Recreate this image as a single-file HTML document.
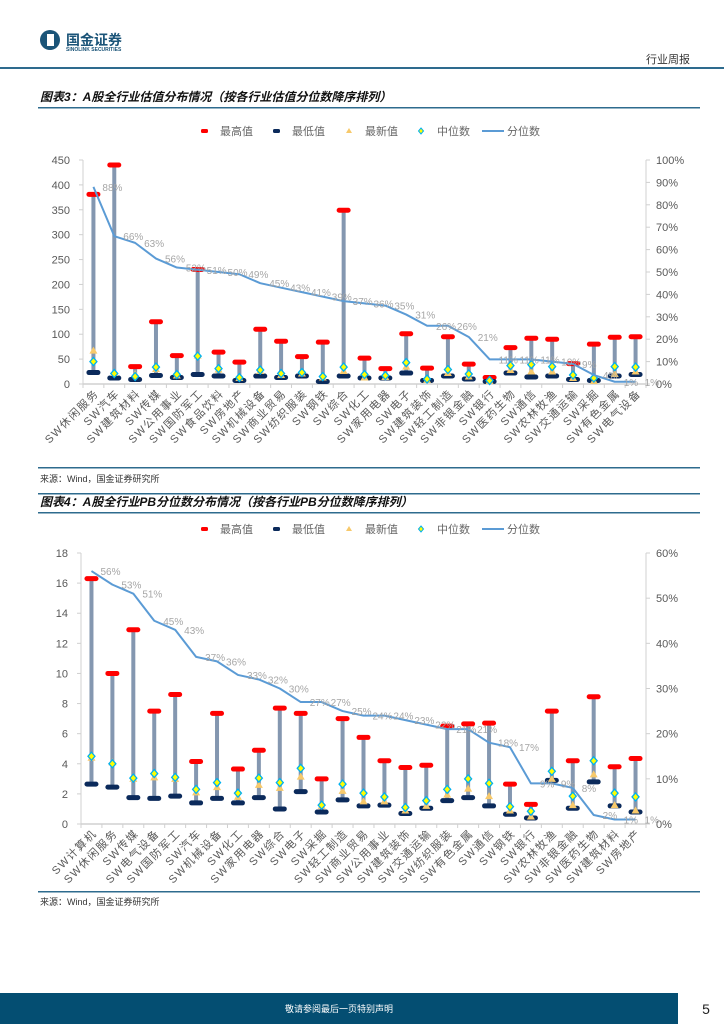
<!DOCTYPE html>
<html><head><meta charset="utf-8">
<style>
html,body{margin:0;padding:0;background:#fff;}
body{width:724px;height:1024px;position:relative;overflow:hidden;font-family:"Liberation Sans","Noto Sans CJK SC",sans-serif;}
svg text{font-family:"Liberation Sans","Noto Sans CJK SC",sans-serif;}
</style></head>
<body>
<svg id="page" width="724" height="1024" viewBox="0 0 724 1024" xmlns="http://www.w3.org/2000/svg">
  <g>
    <circle cx="50" cy="40" r="10" fill="#1b5478"/>
    <rect x="47" y="34" width="7" height="12" fill="#fff"/>
    <text x="66" y="45" font-size="14" font-weight="bold" fill="#1b5478">国金证券</text>
    <text x="66" y="51" font-size="5" font-weight="bold" fill="#1b5478">SINOLINK SECURITIES</text>
  </g>
  <text x="690" y="63" font-size="11" text-anchor="end" fill="#333">行业周报</text>
  <rect x="0" y="67" width="724" height="2" fill="#2e6b8e"/>

  <text x="40" y="101" font-size="12" font-style="italic" font-weight="bold" fill="#111">图表3：A股全行业估值分布情况（按各行业估值分位数降序排列）</text>
  <rect x="38" y="107" width="662" height="1.5" fill="#2e6b8e"/>
  <g id="legend1"></g>
  <g id="chart1"></g>
  <rect x="38" y="467" width="662" height="1.5" fill="#2e6b8e"/>
  <text x="40" y="482" font-size="9" fill="#333">来源：Wind，国金证券研究所</text>

  <rect x="38" y="493" width="662" height="1.5" fill="#2e6b8e"/>
  <text x="40" y="506" font-size="12" font-style="italic" font-weight="bold" fill="#111">图表4：A股全行业PB分位数分布情况（按各行业PB分位数降序排列）</text>
  <rect x="38" y="512" width="662" height="1.5" fill="#2e6b8e"/>
  <g id="legend2"></g>
  <g id="chart2"></g>
  <rect x="38" y="891" width="662" height="1.5" fill="#2e6b8e"/>
  <text x="40" y="905" font-size="9" fill="#333">来源：Wind，国金证券研究所</text>

  <rect x="0" y="993" width="678" height="31" fill="#044e72"/>
  <text x="339" y="1012" font-size="9" fill="#fff" text-anchor="middle">敬请参阅最后一页特别声明</text>
  <text x="706" y="1014" font-size="14" fill="#222" text-anchor="middle">5</text>
</svg>
<script>
const NS='http://www.w3.org/2000/svg';
// Chart 3 data
const cats1=['休闲服务','汽车','建筑材料','传媒','公用事业','国防军工','食品饮料','房地产','机械设备','商业贸易','纺织服装','钢铁','综合','化工','家用电器','电子','建筑装饰','轻工制造','非银金融','银行','医药生物','通信','农林牧渔','交通运输','采掘','有色金属','电气设备'];
const max1=[381,440,35,125,57,230,64,44,110,86,55,84,349,52,31,101,32,95,40,13,73,92,90,41,80,94,95];
const min1=[23,12,9,17,13,19,16,7,16,13,16,5,16,12,12,22,7,16,10,5,22,14,16,9,7,16,19];
const latest1=[67,22,20,30,17,57,29,12,26,18,21,13,26,13,14,35,8,22,15,6,28,25,25,12,6,20,25];
const median1=[45,21,15,34,19,56,31,13,28,21,23,15,34,19,17,43,10,29,20,7,37,39,35,18,12,35,34];
const pct1=[88,66,63,56,52,51,50,49,45,43,41,39,37,36,35,31,26,26,21,11,11,11,10,9,4,1,1];
const leftTicks1=[0,50,100,150,200,250,300,350,400,450];
const rightTicks1=[0,10,20,30,40,50,60,70,80,90,100];
// Chart 4 data
const cats2=['计算机','休闲服务','传媒','电气设备','国防军工','汽车','机械设备','化工','家用电器','综合','电子','采掘','轻工制造','商业贸易','公用事业','建筑装饰','交通运输','纺织服装','有色金属','通信','钢铁','银行','农林牧渔','非银金融','医药生物','建筑材料','房地产'];
const max2=[16.3,10.0,12.9,7.5,8.6,4.15,7.35,3.65,4.9,7.7,7.35,3.0,7.0,5.75,4.2,3.75,3.9,6.5,6.65,6.7,2.65,1.3,7.5,4.2,8.45,3.8,4.35];
const min2=[2.65,2.45,1.75,1.7,1.85,1.4,1.7,1.4,1.75,1.0,2.15,0.8,1.6,1.2,1.25,0.7,1.05,1.55,1.75,1.2,0.65,0.4,2.9,1.05,2.8,1.2,0.8];
const latest2=[4.4,4.1,3.0,3.1,3.0,2.1,2.45,1.8,2.6,2.4,3.15,1.2,2.2,1.5,1.5,0.9,1.2,1.95,2.35,1.85,0.9,0.5,3.0,1.25,3.3,1.25,0.9];
const median2=[4.5,4.0,3.05,3.35,3.1,2.3,2.75,2.05,3.05,2.75,3.7,1.25,2.65,2.05,1.8,1.1,1.55,2.3,3.0,2.7,1.15,0.85,3.5,1.85,4.2,2.05,1.8];
const pct2=[56,53,51,45,43,37,36,33,32,30,27,27,25,24,24,23,22,21,21,18,17,9,9,8,2,1,1];
const leftTicks2=[0,2,4,6,8,10,12,14,16,18];
const rightTicks2=[0,10,20,30,40,50,60];

function el(tag,attrs,parent){const e=document.createElementNS(NS,tag);for(const k in attrs)e.setAttribute(k,attrs[k]);parent.appendChild(e);return e;}

function legend(g,y){
  const items=[['最高值','max'],['最低值','min'],['最新值','latest'],['中位数','median'],['分位数','pct']];
  const xs=[204,276,349,421,490];
  items.forEach((it,i)=>{
    const x=xs[i];
    const grp=el('g',{},g);
    
    
    if(it[1]==='max') el('rect',{x:x-3,y:y-2,width:7,height:4,rx:1.5,fill:'#ff0000'},grp);
    if(it[1]==='min') el('rect',{x:x-3,y:y-2,width:7,height:4,rx:1.5,fill:'#0b2a5b'},grp);
    if(it[1]==='latest') el('path',{d:`M${x} ${y-3} L${x+3} ${y+2} L${x-3} ${y+2}Z`,fill:'#f7c96b'},grp);
    if(it[1]==='median') el('path',{d:`M${x} ${y-3} L${x+2.5} ${y} L${x} ${y+3} L${x-2.5} ${y}Z`,fill:'#ffff00',stroke:'#00b0f0','stroke-width':1},grp);
    if(it[1]==='pct') el('line',{x1:x-8,y1:y,x2:x+14,y2:y,stroke:'#5b9bd5','stroke-width':2},grp);
    const t=el('text',{x:it[1]==='pct'?x+17:x+16,y:y+4,'font-size':11,fill:'#666'},grp);
    t.textContent=it[0];
  });
}

function drawChart(g,o){
  const {cats,maxs,mins,lats,meds,pcts,lt,rt,lmax,rmax,x0,x1,y0,y1,dec}=o;
  const n=cats.length, step=(x1-x0)/n;
  const yL=v=>y0-(v/lmax)*(y0-y1);
  const yR=v=>y0-(v/rmax)*(y0-y1);
  const xC=i=>x0+step*(i+0.5);
  // axes
  el('line',{x1:x0,y1:y1,x2:x0,y2:y0,stroke:'#d0d0d0','stroke-width':1},g);
  el('line',{x1:x1,y1:y1,x2:x1,y2:y0,stroke:'#d0d0d0','stroke-width':1},g);
  el('line',{x1:x0,y1:y0,x2:x1,y2:y0,stroke:'#d0d0d0','stroke-width':1.5},g);
  lt.forEach(v=>{
    el('line',{x1:x0-4,y1:yL(v),x2:x0,y2:yL(v),stroke:'#d0d0d0'},g);
    const t=el('text',{x:x0-13,y:yL(v)+4,'font-size':11,fill:'#595959','text-anchor':'end'},g);
    
    
    t.textContent=v;
  });
  rt.forEach(v=>{
    el('line',{x1:x1,y1:yR(v),x2:x1+4,y2:yR(v),stroke:'#d0d0d0'},g);
    const t=el('text',{x:x1+10,y:yR(v)+4,'font-size':11,fill:'#595959'},g);
    
    
    t.textContent=v+'%';
  });
  for(let i=0;i<=n;i++) el('line',{x1:x0+step*i,y1:y0,x2:x0+step*i,y2:y0+4,stroke:'#d0d0d0'},g);
  cats.forEach((c,i)=>{
    const x=xC(i);
    const t=el('text',{x:0,y:0,'font-size':11,fill:'#595959','text-anchor':'end','letter-spacing':'1.5',transform:`translate(${x+6},${y0+10}) rotate(-45)`},g);
    
    
    t.textContent='SW'+c;
    const bar=el('line',{x1:x,y1:yL(maxs[i]),x2:x,y2:yL(mins[i]),stroke:'#8497b0','stroke-width':4},g);
    
    
    const mx=el('rect',{x:x-7,y:yL(maxs[i])-2.5,width:14,height:5,rx:2.5,fill:'#ff0000'},g);
    
    
    const mn=el('rect',{x:x-7,y:yL(mins[i])-2.5,width:14,height:5,rx:2.5,fill:'#0b2a5b'},g);
    
    
    const ly=yL(lats[i]);
    const la=el('path',{d:`M${x} ${ly-4} L${x+4} ${ly+3} L${x-4} ${ly+3}Z`,fill:'#f7c96b'},g);
    
    
    const my=yL(meds[i]);
    const md=el('path',{d:`M${x} ${my-4} L${x+3.5} ${my} L${x} ${my+4} L${x-3.5} ${my}Z`,fill:'#ffff00',stroke:'#00b0f0','stroke-width':1.3},g);
    
    
  });
  const pts=pcts.map((p,i)=>xC(i)+','+yR(p)).join(' ');
  const pl=el('polyline',{points:pts,fill:'none',stroke:'#5b9bd5','stroke-width':2,'stroke-linejoin':'round'},g);
  
  
  pcts.forEach((p,i)=>{
    const t=el('text',{x:xC(i)+9,y:yR(p)+4,'font-size':10,fill:'#a6a6a6'},g);
    
    
    t.textContent=p+'%';
  });
}

legend(document.getElementById('legend1'),131);
legend(document.getElementById('legend2'),529);
drawChart(document.getElementById('chart1'),{cats:cats1,maxs:max1,mins:min1,lats:latest1,meds:median1,pcts:pct1,lt:leftTicks1,rt:rightTicks1,lmax:450,rmax:100,x0:83,x1:646,y0:384,y1:160});
drawChart(document.getElementById('chart2'),{cats:cats2,maxs:max2,mins:min2,lats:latest2,meds:median2,pcts:pct2,lt:leftTicks2,rt:rightTicks2,lmax:18,rmax:60,x0:81,x1:646,y0:824,y1:553});
</script>
</body></html>
